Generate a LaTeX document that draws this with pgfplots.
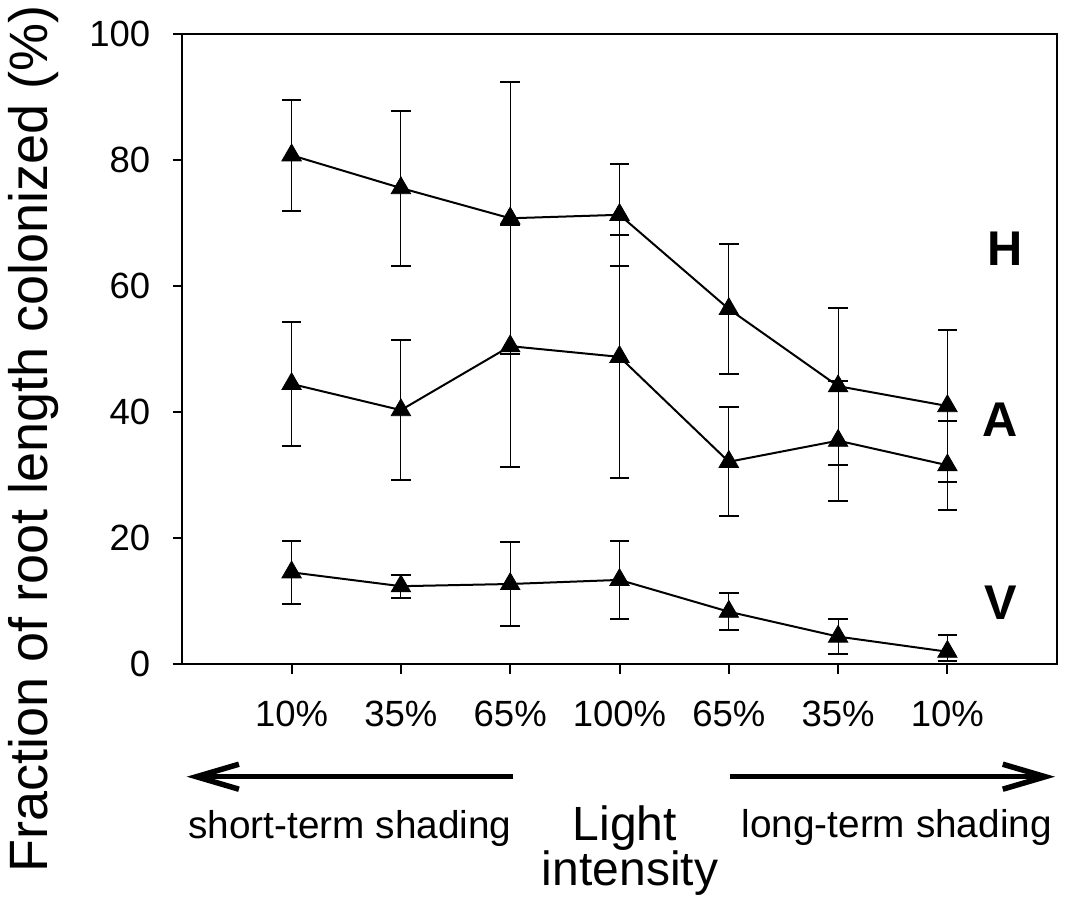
\documentclass[border=0pt]{standalone}
\usepackage{fontspec}
\setmainfont{Liberation Sans}
\usepackage{pgfplots}
\pgfplotsset{compat=1.18}
\usepackage{pgfplotstable}
\usetikzlibrary{arrows.meta}

\pgfplotstableread{
x y ep em
0 80.8 8.8 8.8
1 75.6 12.3 12.3
2 70.8 21.6 21.6
3 71.35 8.05 8.05
4 56.4 10.3 10.3
5 44.15 12.45 12.45
6 41.0 12.1 12.1
}\tabH
\pgfplotstableread{
x y ep em
0 44.5 9.8 9.8
1 40.35 11.05 11.05
2 50.5 19.2 19.2
3 48.8 19.3 19.3
4 32.15 8.65 8.65
5 35.5 9.5 9.5
6 31.6 7.1 7.1
}\tabA
\pgfplotstableread{
x y ep em
0 14.6 5.0 5.0
1 12.4 1.85 1.85
2 12.75 6.65 6.65
3 13.4 6.2 6.2
4 8.35 2.95 2.95
5 4.4 2.8 2.8
6 2.0 2.65 1.5
}\tabV

\pgfplotsset{mystyle/.style={black, line width=0.8pt, mark=triangle*, mark size=4.5pt,
  mark options={solid, fill=black, line width=0.3pt},
  error bars/.cd, y dir=both, y explicit,
  error mark options={rotate=90, mark size=3.9pt, line width=0.8pt, black}}}

\begin{document}
\begin{tikzpicture}
\begin{axis}[
  at={(72.92pt,-265.72pt)}, anchor=south west,
  scale only axis, width=349.76pt, height=252pt,
  xmin=-1, xmax=7, ymin=0, ymax=100,
  xtick={0,...,6},
  xticklabels={10\%,35\%,65\%,100\%,65\%,35\%,10\%},
  ytick={0,20,...,100},
  tick align=outside, xtick pos=bottom, ytick pos=left,
  major tick length=3.8pt,
  line width=0.8pt,
  every tick/.style={line width=0.8pt, black},
  /pgf/number format/assume math mode=true,
  yticklabel style={font=\fontsize{14.6}{17}\selectfont, anchor=east, inner sep=0pt, xshift=-8.64pt},
  xticklabel style={font=\fontsize{14.6}{17}\selectfont, anchor=base, inner sep=0pt, yshift=-20.96pt},
  clip=false,
]
\addplot[mystyle] table[x=x, y=y, y error plus=ep, y error minus=em]{\tabH};
\addplot[mystyle] table[x=x, y=y, y error plus=ep, y error minus=em]{\tabA};
\addplot[mystyle] table[x=x, y=y, y error plus=ep, y error minus=em]{\tabV};
\end{axis}
\begin{scope}[x=0.4pt, y=-0.4pt]
  \node[font=\bfseries\fontsize{19.5}{22}\selectfont, inner sep=0pt] at (1005,249) {H};
  \node[font=\bfseries\fontsize{19.5}{22}\selectfont, inner sep=0pt] at (1000.5,420) {A};
  \node[font=\bfseries\fontsize{19.5}{22}\selectfont, inner sep=0pt] at (1001,603) {V};
  \draw[line width=2.2pt, -{Straight Barb[length=17pt, width=10pt]}] (513,776.7) -- (186.7,776.7);
  \draw[line width=2.2pt, -{Straight Barb[length=17pt, width=10pt]}] (730,776.7) -- (1055,776.7);
  \node[font=\fontsize{15.5}{18}\selectfont, inner sep=0pt, anchor=base] at (349.9,838) {short-term shading};
  \node[font=\fontsize{15.5}{18}\selectfont, inner sep=0pt, anchor=base] at (896.7,837) {long-term shading};
  \node[font=\fontsize{19.2}{22}\selectfont, inner sep=0pt, anchor=base] at (624.7,840) {Light};
  \node[font=\fontsize{19.2}{22}\selectfont, inner sep=0pt, anchor=base] at (630,885) {intensity};
  \node[font=\fontsize{21.6}{25}\selectfont, inner sep=0pt, anchor=base, rotate=90] at (47,439) {Fraction of root length colonized (\%)};
  \pgfresetboundingbox
  \path (0,0) rectangle (1066,914);
\end{scope}
\end{tikzpicture}
\end{document}
